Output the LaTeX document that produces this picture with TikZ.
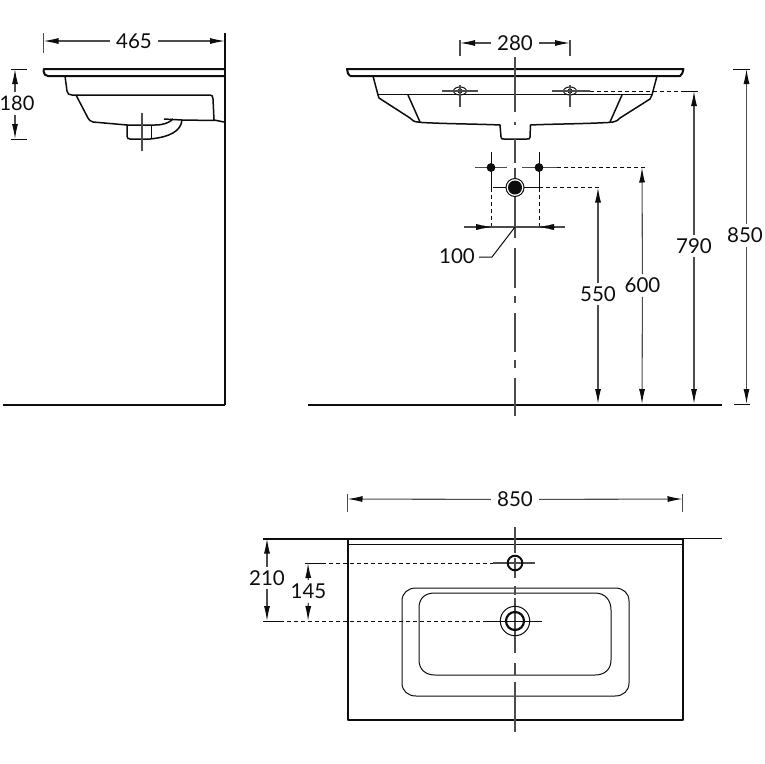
\documentclass[tikz,border=0pt]{standalone}
\usepackage{fontspec}
\setmainfont{Lato}
\usetikzlibrary{arrows.meta}
\definecolor{ink}{gray}{0.05}
\definecolor{thinink}{gray}{0.3}
\tikzset{
  every path/.style={line join=round},
  heavy/.style={draw=ink,line width=2pt},
  medium/.style={draw=ink,line width=1.5pt},
  fine/.style={draw=ink,line width=1pt},
  axis/.style={draw=thinink,line width=1.2pt},
  dashline/.style={draw=ink,line width=1pt,dash pattern=on 3.5pt off 3.5pt},
  dimlabel/.style={font=\fontsize{20.5}{21}\selectfont,inner sep=0pt,text height=14.5pt,text depth=0pt,text=ink},
  hlabel/.style={dimlabel,inner xsep=6pt},
  vlabel/.style={dimlabel,inner ysep=4pt},
  dimarrow/.style={draw=thinink,line width=1.1pt,-{Latex[length=15pt,width=6pt,color=ink]}},
  solidtip/.style={draw=ink,line width=0.1pt,-{Latex[length=15pt,width=6pt,color=ink]}},
}
\begin{document}
\begin{tikzpicture}[x=1pt,y=-1pt]
\useasboundingbox (0,0) rectangle (764,764);
\fill[white] (0,0) rectangle (764,764);

% ---------- side view ----------
\draw[heavy] (225,33) -- (225,405);
\draw[heavy] (3,404.5) -- (225,404.5);
\draw[heavy] (224,69) -- (44,69) -- (43.5,71) .. controls (44,74) and (45,76) .. (48,76) -- (224,76);
\draw[medium] (65,76) -- (67,91) .. controls (67.5,94) and (69,95) .. (72,95) -- (210,95) .. controls (212,95) and (213,96) .. (213,99) -- (214,120) -- (224,122);
\draw[medium] (76,95) -- (88,118) .. controls (89,120) and (90,121) .. (93,122) -- (127,125) -- (127,136) .. controls (127,138) and (128,139) .. (130,139) -- (150,139) .. controls (170,137) and (181,131) .. (182,120);
\draw[medium] (127,125) -- (155,125) .. controls (163,125) and (169,123) .. (173,119);
\draw[medium] (164,119) -- (182,120) -- (214,120.5);
\draw[fine] (151,125) -- (151,138);
\draw[axis] (142,113) -- (142,151);
\coordinate (sideTop) at (43.5,41);
\draw[axis] (43.5,33) -- (43.5,53);
\coordinate (sideWall) at (225,41);
\node[hlabel] (d465) at (134,41) {465};
\draw[dimarrow] (d465) -- (sideTop);
\draw[dimarrow] (d465) -- (sideWall);
\draw[fine] (11,69) -- (27,69);
\draw[fine] (11,139) -- (27,139);
\coordinate (h180a) at (15,69);
\coordinate (h180b) at (15,139);
\node[vlabel,font=\fontsize{20}{21}\selectfont] (d180) at (17,103.5) {180};
\draw[dimarrow] (d180.north -| h180a) -- (h180a);
\draw[dimarrow] (d180.south -| h180b) -- (h180b);

% ---------- front view ----------
\draw[heavy] (308,404.5) -- (722,404.5);
\draw[heavy] (350,76) -- (680,76) .. controls (682,75) and (683,72) .. (683.5,69) -- (347,69) .. controls (347.5,72) and (348,75) .. (350,76);
\draw[medium] (373,76) -- (378,95) -- (379,98) -- (410,118) .. controls (412,120) and (414,122) .. (418,122) -- (422,122.5) .. controls (450,124) and (480,124) .. (500,125) -- (501,137) .. controls (501,139) and (502,139) .. (504,139) -- (527,139) .. controls (529,139) and (530,139) .. (530,137) -- (530.5,125) .. controls (550,124) and (580,124) .. (608,122.5) -- (613,122) .. controls (616,122) and (618,120) .. (620,118) -- (650,99) -- (652,95) -- (657,76);
\draw[medium] (378,94.5) -- (652,94.5);
\draw[medium] (408,95) -- (420,122);
\draw[medium] (622,95) -- (610,122);
% taps
\foreach \tx/\tn in {460/tapL,570/tapR}{
  \coordinate (\tn) at (\tx,91);
  \draw[fine] (\tn) ellipse (6.5pt and 4pt);
  \fill[ink] (\tn) circle (2.5pt);
  \draw[axis] (\tx,85) -- (\tx,107);
}
\draw[axis] (442,91) -- (478,91);
\draw[axis] (552,91) -- (590,91);
\draw[dashline] (590,91) -- (685,91);
\draw[fine] (685,91) -- (698,91);
% 280
\draw[axis] (460,40) -- (460,56);
\draw[axis] (570,40) -- (570,56);
\coordinate (h280a) at (460,43);
\coordinate (h280b) at (570,43);
\node[hlabel] (d280) at (515,43) {280};
\draw[dimarrow] (d280) -- (h280a);
\draw[dimarrow] (d280) -- (h280b);
% centre line
\draw[axis] (515,57) -- (515,112);
\draw[axis] (515,122) -- (515,125);
\draw[axis] (515,139) -- (515,163);
\draw[axis] (515,168) -- (515,224);
\draw[axis] (515,224) -- (515,238);
\draw[axis] (515,248) -- (515,288);
\draw[axis] (515,296) -- (515,303);
\draw[axis] (515,313) -- (515,352);
\draw[axis] (515,360) -- (515,368);
\draw[axis] (515,378) -- (515,416);
% mounting points
\draw[fine] (491,152) -- (491,188);
\draw[fine] (539,152) -- (539,188);
\draw[dashline] (491,188) -- (491,227);
\draw[dashline] (539,188) -- (539,227);
\draw[axis] (475,167.5) -- (507,167.5);
\draw[axis] (522,167.5) -- (557,167.5);
\draw[dashline] (557,167.5) -- (645,167.5);
\fill[ink] (491,167.5) circle (4.4pt);
\fill[ink] (539,167.5) circle (4.4pt);
\draw[fine] (493,187.5) -- (539,187.5);
\draw[dashline] (539,187.5) -- (600,187.5);
\draw[fine,fill=white] (515,187.5) circle (9pt);
\fill[ink] (515,187.5) circle (7pt);
% 100
\coordinate (w100a) at (491,227);
\coordinate (w100b) at (539,227);
\coordinate (w100c) at (515,227);
\draw[axis] (464,227) -- (565,227);
\draw[solidtip] (476,227) -- (w100a);
\draw[solidtip] (554,227) -- (w100b);
\node[dimlabel,anchor=east] (d100) at (475,256) {100};
\draw[fine] (d100.east) ++(4,1) coordinate (lead) -- (492,257) -- (w100c);
% verticals
\coordinate (f550a) at (598,187.5);
\coordinate (f550b) at (598,404);
\node[vlabel] (d550) at (598,294) {550};
\draw[dimarrow] (d550) -- (f550a);
\draw[dimarrow] (d550) -- (f550b);
\coordinate (f600a) at (642,167.5);
\coordinate (f600b) at (642,404);
\node[vlabel] (d600) at (642.5,285.5) {600};
\draw[dimarrow] (d600) -- (f600a);
\draw[dimarrow] (d600) -- (f600b);
\coordinate (f790a) at (694,91);
\coordinate (f790b) at (694,404);
\node[vlabel] (d790) at (694,246) {790};
\draw[dimarrow] (d790) -- (f790a);
\draw[dimarrow] (d790) -- (f790b);
\coordinate (f850a) at (746.5,69);
\coordinate (f850b) at (746.5,404);
\draw[fine] (733,69) -- (750,69);
\draw[fine] (734,404.5) -- (750,404.5);
\node[vlabel] (d850) at (745,235.5) {850};
\draw[dimarrow] (d850.north -| f850a) -- (f850a);
\draw[dimarrow] (d850.south -| f850b) -- (f850b);

% ---------- plan view ----------
\draw[heavy] (263,538.5) -- (682.5,538.5);
\draw[fine] (682.5,538.5) -- (722,538.5);
\draw[heavy] (347.5,538.5) -- (347.5,720) -- (682.5,720) -- (682.5,538.5);
\draw[fine] (347.5,544.5) -- (682.5,544.5);
\draw[fine] (402,601) .. controls (402,593) and (408,588) .. (416,588) -- (615,588) .. controls (623,588) and (629,593) .. (629,601) -- (629,683) .. controls (629,691) and (623,696) .. (615,696) -- (416,696) .. controls (408,696) and (402,691) .. (402,683) -- cycle;
\draw[fine] (419,608) .. controls (419,598) and (425,593) .. (435,593) -- (595,593) .. controls (605,593) and (611,600) .. (611,610) -- (611,660) .. controls (611,669) and (605,675) .. (595,675) -- (435,675) .. controls (425,675) and (419,669) .. (419,660) -- cycle;
% centre line (plan)
\draw[axis] (515,527) -- (515,553);
\draw[axis] (515,558) -- (515,578);
\draw[axis] (515,586) -- (515,595);
\draw[axis] (515,598) -- (515,653);
\draw[axis] (515,663) -- (515,675);
\draw[axis] (515,682) -- (515,732);
% holes
\draw[axis] (493,563) -- (535,563);
\draw[heavy] (515,563) circle (7.3pt);
\draw[fine] (515,621) circle (14.7pt);
\draw[fine] (487,621) -- (542,621);
\draw[line width=2.2pt,draw=ink] (515,621) circle (9pt);
\draw[dashline] (322,563) -- (493,563);
\draw[fine] (305,563) -- (322,563);
\draw[dashline] (280,621) -- (487,621);
\draw[fine] (263,621) -- (280,621);
% dimensions
\coordinate (p850a) at (347.5,499);
\coordinate (p850b) at (682.5,499);
\draw[axis] (347.5,494) -- (347.5,512);
\draw[axis] (682.5,494) -- (682.5,512);
\node[hlabel] (e850) at (515,499.5) {850};
\draw[dimarrow] (e850) -- (p850a);
\draw[dimarrow] (e850) -- (p850b);
\coordinate (p210a) at (267,538.5);
\coordinate (p210b) at (267,621);
\node[vlabel] (d210) at (267,578) {210};
\draw[dimarrow] (d210) -- (p210a);
\draw[dimarrow] (d210) -- (p210b);
\coordinate (p145a) at (308,563);
\coordinate (p145b) at (308,621);
\node[vlabel] (d145) at (308.5,591.5) {145};
\draw[dimarrow] (d145) -- (p145a);
\draw[dimarrow] (d145) -- (p145b);
\end{tikzpicture}
\end{document}
